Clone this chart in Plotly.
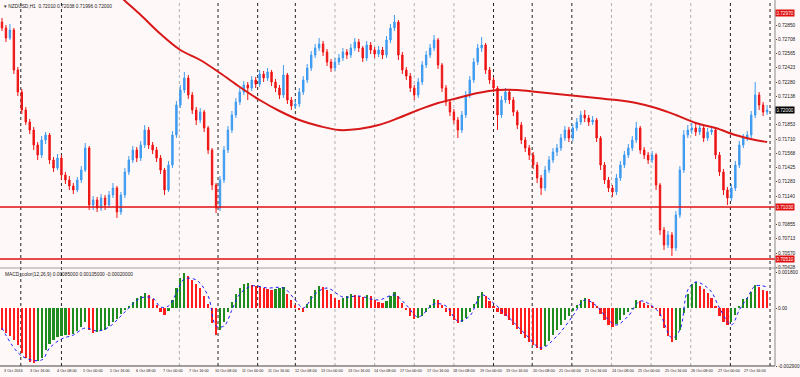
import plotly.graph_objects as go

# ---------------- data ----------------
closes = [0.7282, 0.7272, 0.7280, 0.7240, 0.7218, 0.7200, 0.7188, 0.7180, 0.7165, 0.7155,
          0.7170, 0.7175, 0.7150, 0.7142, 0.7152, 0.7135, 0.7130, 0.7124, 0.7120, 0.7130,
          0.7140, 0.7162, 0.7105, 0.7110, 0.7102, 0.7112, 0.7105, 0.7115, 0.7122, 0.7098,
          0.7115, 0.7138, 0.7150, 0.7160, 0.7152, 0.7165, 0.7180, 0.7165, 0.7160, 0.7152,
          0.7140, 0.7120, 0.7145, 0.7175, 0.7205, 0.7220, 0.7232, 0.7215, 0.7200, 0.7190,
          0.7198, 0.7182, 0.7160, 0.7125, 0.7102, 0.7130, 0.7160, 0.7180, 0.7195, 0.7208,
          0.7218, 0.7225, 0.7222, 0.7230, 0.7226, 0.7236, 0.7232, 0.7238, 0.7228, 0.7222,
          0.7215, 0.7235, 0.7210, 0.7204, 0.7206, 0.7218, 0.7230, 0.7242, 0.7255, 0.7262,
          0.7266, 0.7258, 0.7248, 0.7242, 0.7248, 0.7252, 0.7258, 0.7255, 0.7262, 0.7268,
          0.7262, 0.7252, 0.7265, 0.7260, 0.7256, 0.7260, 0.7255, 0.7270, 0.7282, 0.7288,
          0.7255, 0.7240, 0.7234, 0.7222, 0.7215, 0.7228, 0.7245, 0.7255, 0.7262, 0.7270,
          0.7245, 0.7222, 0.7208, 0.7198, 0.7190, 0.7180, 0.7195, 0.7215, 0.7230, 0.7248,
          0.7262, 0.7265, 0.7240, 0.7230, 0.7222, 0.7195, 0.7210, 0.7218, 0.7210, 0.7198,
          0.7185, 0.7170, 0.7162, 0.7155, 0.7145, 0.7132, 0.7122, 0.7140, 0.7150, 0.7158,
          0.7162, 0.7172, 0.7180, 0.7172, 0.7182, 0.7188, 0.7195, 0.7192, 0.7188, 0.7190,
          0.7172, 0.7145, 0.7130, 0.7122, 0.7118, 0.7132, 0.7145, 0.7155, 0.7162, 0.7170,
          0.7182, 0.7160, 0.7155, 0.7150, 0.7155, 0.7125, 0.7080, 0.7065, 0.7075, 0.7062,
          0.7095, 0.7140, 0.7175, 0.7180, 0.7182, 0.7178, 0.7182, 0.7172, 0.7178, 0.7180,
          0.7155, 0.7138, 0.7120, 0.7112, 0.7122, 0.7145, 0.7165, 0.7172, 0.7175, 0.7195,
          0.7215, 0.7205, 0.7198, 0.7200]

opens = [0.7288, 0.7282, 0.7272, 0.7280, 0.7240, 0.7218, 0.7200, 0.7188, 0.7180, 0.7165,
         0.7155, 0.7170, 0.7175, 0.7150, 0.7142, 0.7152, 0.7135, 0.7130, 0.7124, 0.7120,
         0.7130, 0.7140, 0.7162, 0.7105, 0.7110, 0.7102, 0.7112, 0.7105, 0.7115, 0.7122,
         0.7098, 0.7115, 0.7138, 0.7150, 0.7160, 0.7152, 0.7165, 0.7180, 0.7165, 0.7160,
         0.7152, 0.7140, 0.7120, 0.7145, 0.7175, 0.7205, 0.7220, 0.7232, 0.7215, 0.7200,
         0.7190, 0.7198, 0.7182, 0.7160, 0.7125, 0.7102, 0.7130, 0.7160, 0.7180, 0.7195,
         0.7208, 0.7218, 0.7225, 0.7222, 0.7230, 0.7226, 0.7236, 0.7232, 0.7238, 0.7228,
         0.7222, 0.7215, 0.7235, 0.7210, 0.7204, 0.7206, 0.7218, 0.7230, 0.7242, 0.7255,
         0.7262, 0.7266, 0.7258, 0.7248, 0.7242, 0.7248, 0.7252, 0.7258, 0.7255, 0.7262,
         0.7268, 0.7262, 0.7252, 0.7265, 0.7260, 0.7256, 0.7260, 0.7255, 0.7270, 0.7282,
         0.7288, 0.7255, 0.7240, 0.7234, 0.7222, 0.7215, 0.7228, 0.7245, 0.7255, 0.7262,
         0.7270, 0.7245, 0.7222, 0.7208, 0.7198, 0.7190, 0.7180, 0.7195, 0.7215, 0.7230,
         0.7248, 0.7262, 0.7265, 0.7240, 0.7230, 0.7222, 0.7195, 0.7210, 0.7218, 0.7210,
         0.7198, 0.7185, 0.7170, 0.7162, 0.7155, 0.7145, 0.7132, 0.7122, 0.7140, 0.7150,
         0.7158, 0.7162, 0.7172, 0.7180, 0.7172, 0.7182, 0.7188, 0.7195, 0.7192, 0.7188,
         0.7190, 0.7172, 0.7145, 0.7130, 0.7122, 0.7118, 0.7132, 0.7145, 0.7155, 0.7162,
         0.7170, 0.7182, 0.7160, 0.7155, 0.7150, 0.7155, 0.7125, 0.7080, 0.7065, 0.7075,
         0.7062, 0.7095, 0.7140, 0.7175, 0.7180, 0.7182, 0.7178, 0.7182, 0.7172, 0.7178,
         0.7180, 0.7155, 0.7138, 0.7120, 0.7112, 0.7122, 0.7145, 0.7165, 0.7172, 0.7175,
         0.7195, 0.7215, 0.7205, 0.7198]

highs = [0.7292, 0.7285, 0.7286, 0.7282, 0.7243, 0.7221, 0.7203, 0.7191, 0.7183, 0.7168,
         0.7174, 0.7178, 0.7177, 0.7153, 0.7156, 0.7155, 0.7138, 0.7134, 0.7127, 0.7133,
         0.7144, 0.7167, 0.7164, 0.7114, 0.7113, 0.7116, 0.7115, 0.7119, 0.7127, 0.7124,
         0.7118, 0.7142, 0.7154, 0.7164, 0.7163, 0.7169, 0.7185, 0.7183, 0.7168, 0.7163,
         0.7155, 0.7142, 0.7149, 0.7179, 0.7209, 0.7225, 0.7238, 0.7235, 0.7218, 0.7203,
         0.7202, 0.7200, 0.7184, 0.7162, 0.7127, 0.7134, 0.7164, 0.7184, 0.7199, 0.7212,
         0.7222, 0.7229, 0.7228, 0.7234, 0.7233, 0.7240, 0.7239, 0.7242, 0.7240, 0.7231,
         0.7225, 0.7245, 0.7237, 0.7213, 0.7210, 0.7222, 0.7234, 0.7246, 0.7259, 0.7266,
         0.7272, 0.7269, 0.7261, 0.7251, 0.7252, 0.7256, 0.7262, 0.7261, 0.7266, 0.7272,
         0.7271, 0.7264, 0.7269, 0.7268, 0.7263, 0.7264, 0.7263, 0.7274, 0.7286, 0.7295,
         0.7290, 0.7258, 0.7243, 0.7237, 0.7225, 0.7232, 0.7249, 0.7259, 0.7266, 0.7275,
         0.7272, 0.7247, 0.7225, 0.7211, 0.7201, 0.7193, 0.7199, 0.7219, 0.7234, 0.7252,
         0.7266, 0.7273, 0.7267, 0.7243, 0.7233, 0.7224, 0.7214, 0.7222, 0.7221, 0.7213,
         0.7200, 0.7188, 0.7173, 0.7165, 0.7158, 0.7148, 0.7135, 0.7144, 0.7154, 0.7162,
         0.7166, 0.7176, 0.7184, 0.7183, 0.7186, 0.7192, 0.7199, 0.7200, 0.7195, 0.7194,
         0.7192, 0.7174, 0.7148, 0.7133, 0.7125, 0.7136, 0.7149, 0.7159, 0.7166, 0.7174,
         0.7188, 0.7184, 0.7163, 0.7158, 0.7159, 0.7157, 0.7127, 0.7083, 0.7079, 0.7078,
         0.7099, 0.7144, 0.7180, 0.7185, 0.7187, 0.7186, 0.7187, 0.7185, 0.7182, 0.7184,
         0.7182, 0.7158, 0.7141, 0.7123, 0.7126, 0.7149, 0.7169, 0.7176, 0.7179, 0.7199,
         0.7228, 0.7218, 0.7208, 0.7205]

lows = [0.7279, 0.7268, 0.7270, 0.7236, 0.7214, 0.7196, 0.7185, 0.7176, 0.7160, 0.7150,
        0.7152, 0.7166, 0.7146, 0.7138, 0.7140, 0.7130, 0.7126, 0.7120, 0.7116, 0.7118,
        0.7127, 0.7138, 0.7100, 0.7100, 0.7098, 0.7099, 0.7100, 0.7102, 0.7112, 0.7092,
        0.7095, 0.7112, 0.7135, 0.7147, 0.7148, 0.7149, 0.7162, 0.7161, 0.7156, 0.7148,
        0.7136, 0.7115, 0.7118, 0.7142, 0.7172, 0.7202, 0.7217, 0.7211, 0.7196, 0.7185,
        0.7187, 0.7178, 0.7156, 0.7120, 0.7097, 0.7099, 0.7127, 0.7157, 0.7177, 0.7192,
        0.7205, 0.7215, 0.7210, 0.7219, 0.7222, 0.7223, 0.7228, 0.7229, 0.7224, 0.7218,
        0.7211, 0.7212, 0.7206, 0.7200, 0.7201, 0.7203, 0.7215, 0.7227, 0.7239, 0.7252,
        0.7259, 0.7254, 0.7244, 0.7238, 0.7239, 0.7245, 0.7249, 0.7251, 0.7252, 0.7259,
        0.7258, 0.7248, 0.7249, 0.7256, 0.7252, 0.7253, 0.7251, 0.7252, 0.7267, 0.7279,
        0.7250, 0.7236, 0.7230, 0.7218, 0.7210, 0.7212, 0.7225, 0.7242, 0.7252, 0.7259,
        0.7241, 0.7218, 0.7204, 0.7194, 0.7186, 0.7172, 0.7177, 0.7192, 0.7212, 0.7227,
        0.7245, 0.7258, 0.7236, 0.7226, 0.7218, 0.7180, 0.7192, 0.7207, 0.7206, 0.7194,
        0.7181, 0.7166, 0.7158, 0.7150, 0.7141, 0.7127, 0.7115, 0.7119, 0.7137, 0.7147,
        0.7154, 0.7159, 0.7169, 0.7168, 0.7169, 0.7179, 0.7185, 0.7188, 0.7184, 0.7185,
        0.7168, 0.7140, 0.7126, 0.7118, 0.7113, 0.7115, 0.7129, 0.7142, 0.7152, 0.7159,
        0.7167, 0.7156, 0.7151, 0.7146, 0.7147, 0.7120, 0.7075, 0.7060, 0.7062, 0.7054,
        0.7059, 0.7092, 0.7137, 0.7172, 0.7176, 0.7174, 0.7175, 0.7168, 0.7169, 0.7175,
        0.7151, 0.7134, 0.7115, 0.7105, 0.7109, 0.7119, 0.7142, 0.7162, 0.7169, 0.7172,
        0.7192, 0.7200, 0.7194, 0.7195]

ma_bars = [25, 30, 35, 40, 45, 50, 55, 60, 65, 70, 75, 80, 85, 90, 95, 100, 105, 110,
           115, 120, 125, 130, 135, 140, 145, 150, 155, 160, 165, 170, 175, 180, 185, 190, 193]
ma_values = [0.7335, 0.7313, 0.7295, 0.7276, 0.7260, 0.7250, 0.7237, 0.7223, 0.7210, 0.7199,
             0.7190, 0.7184, 0.7180, 0.7181, 0.7185, 0.7192, 0.7200, 0.7207, 0.7212, 0.7217,
             0.7220, 0.7220, 0.7218, 0.7216, 0.7214, 0.7212, 0.7210, 0.7207, 0.7202, 0.7195,
             0.7187, 0.7182, 0.7175, 0.7170, 0.7168]

macd_hist = [-0.0011, -0.00125, -0.0014, -0.0016, -0.00185, -0.00225, -0.0025, -0.0027, -0.00275, -0.00265,
             -0.0025, -0.0021, -0.0018, -0.0016, -0.00145, -0.0014, -0.00135, -0.00135, -0.0013, -0.00115,
             -0.00095, -0.0007, -0.0011, -0.00125, -0.0012, -0.00115, -0.0011, -0.0009, -0.0007, -0.00055,
             -0.0003, -0.0001, 0.0001, 0.0003, 0.0005, 0.0006, 0.00075, 0.00065, 0.00045, 0.00015,
             -0.0002, -0.00035, -0.00015, 0.0004, 0.001, 0.0015, 0.00175, 0.0016, 0.0014, 0.0012,
             0.001, 0.0006, 0.0002, -0.00075, -0.00135, -0.0011, -0.0007, -0.0002, 0.0003, 0.0007,
             0.001, 0.0012, 0.00125, 0.00115, 0.0011, 0.00105, 0.001, 0.00095, 0.0009, 0.00095,
             0.001, 0.00105, 0.0007, 0.0004, 0.00015, -0.0001, -0.0002, 0.0002, 0.0006, 0.0009,
             0.0011, 0.00105, 0.0009, 0.0007, 0.0005, 0.0004, 0.0005, 0.0006, 0.0007, 0.00065,
             0.0006, 0.00055, 0.00065, 0.0006, 0.0004, 0.0003, 0.00025, 0.00035, 0.0006, 0.0008,
             0.0006, 0.00025, -0.0001, -0.0004, -0.00055, -0.0005, -0.0004, -0.0002, 0.00015, 0.00045,
             0.0004, 0.00015, -0.0002, -0.0004, -0.0006, -0.00075, -0.0007, -0.0005, -0.0002, 0.0002,
             0.0006, 0.0008, 0.0006, 0.00035, 0.0001, -0.0002, -0.0003, -0.0004, -0.0006, -0.00085,
             -0.00105, -0.0013, -0.0015, -0.0017, -0.00185, -0.002, -0.0021, -0.0019, -0.00165, -0.00135,
             -0.0011, -0.00085, -0.0006, -0.0004, -0.00015, 0.00015, 0.0004, 0.0005, 0.00045, 0.0003,
             0.0001, -0.0003, -0.0006, -0.00085, -0.00095, -0.0008, -0.0006, -0.00035, -0.0002, -0.00005,
             0.0004, 0.00035, 0.00025, 0.00015, 0.0001, -0.00005, -0.0004, -0.001, -0.0014, -0.0017,
             -0.0016, -0.0011, -0.00025, 0.0007, 0.0012, 0.0013, 0.0011, 0.00095, 0.00075, 0.0005,
             0.0001, -0.0004, -0.0007, -0.00085, -0.0007, -0.00035, 0.0001, 0.00045, 0.0005, 0.0008,
             0.00115, 0.00105, 0.0009, 0.00085]

signal_bars = [0, 5, 10, 12, 15, 18, 21, 24, 27, 30, 32, 35, 38, 40, 42, 44, 46, 49, 52, 54,
               56, 58, 60, 63, 67, 71, 74, 76, 79, 82, 86, 90, 95, 99, 102, 105, 109, 112, 115, 118,
               121, 124, 128, 132, 136, 140, 144, 147, 150, 153, 155, 158, 161, 164, 166, 169, 171, 173,
               175, 177, 179, 181, 184, 186, 188, 190, 193]
signal_values = [-0.001, -0.0024, -0.0026, -0.002, -0.00155, -0.00135, -0.001, -0.00115, -0.00095, -0.0004,
                 0.0, 0.0005, 0.0005, 0.00005, 0.0001, 0.00075, 0.00145, 0.0014, 0.0006, -0.0009,
                 -0.0009, -0.0001, 0.0007, 0.0011, 0.001, 0.001, 0.0004, 0.0, 0.0007, 0.001,
                 0.00055, 0.0006, 0.0004, 0.00065, 0.00015, -0.00045, 0.0002, 0.0001, -0.00065, -0.0004,
                 0.00065, 0.00025, -0.0005, -0.0013, -0.002, -0.0014, -0.0004, 0.0004, 0.0001, -0.0006,
                 -0.00085, -0.0004, 0.00035, 0.0001, -0.0003, -0.0015, -0.0011, 0.0009, 0.0013, 0.00115,
                 0.0008, 0.0, -0.00085, -0.0001, 0.0005, 0.0011, 0.00105]

date_labels = ["3 Oct 2016", "3 Oct 16:00", "4 Oct 08:00", "5 Oct 00:00", "5 Oct 16:00",
               "6 Oct 08:00", "7 Oct 00:00", "7 Oct 16:00", "10 Oct 08:00", "11 Oct 00:00",
               "11 Oct 16:00", "12 Oct 08:00", "13 Oct 00:00", "13 Oct 16:00", "14 Oct 08:00",
               "17 Oct 00:00", "17 Oct 16:00", "18 Oct 08:00", "19 Oct 00:00", "19 Oct 16:00",
               "20 Oct 08:00", "21 Oct 00:00", "21 Oct 16:00", "24 Oct 08:00", "25 Oct 00:00",
               "25 Oct 16:00", "26 Oct 08:00", "27 Oct 00:00", "27 Oct 16:00"]

price_ticks = [0.72850, 0.72708, 0.72565, 0.72423, 0.72280, 0.72138, 0.71853, 0.71710,
               0.71568, 0.71425, 0.71283, 0.71140, 0.70855, 0.70713, 0.70570, 0.70428]
level_lines = [0.7103, 0.7051]
top_level = 0.7297
last_price = 0.7200
macd_ticks = [0.0018, 0.0, -0.0029]
macd_tick_text = ["0.001800", "0.00", "-0.002900"]

title_text = "\u25be NZDUSD,H1  0.72010 0.72038 0.71996 0.72000"
macd_title = "MACD_color(12,26,9) 0.00085000 0.00105000 -0.00020000"

# ---------------- layout constants (pixels) ----------------
W, H = 800, 377
MR, MB = 18, 11
PW, PH = W - MR, H - MB
MAIN_BOTTOM_PX = 268
BAR_PX = 4.0
split = 1 - MAIN_BOTTOM_PX / PH

def px_to_x(px):
    return px / BAR_PX - 0.5

x_idx = list(range(len(closes)))
BLUE = "#3d9bf0"
RED = "#ee1414"
GREEN = "#1f8c1f"
FONT = "Liberation Sans"
FS = 4.8
FS_DATE = 3.8

fig = go.Figure()
fig.add_trace(go.Candlestick(
    x=x_idx, open=opens, high=highs, low=lows, close=closes,
    increasing=dict(line=dict(color=BLUE, width=1), fillcolor=BLUE),
    decreasing=dict(line=dict(color=RED, width=1), fillcolor=RED),
    whiskerwidth=0, xaxis="x", yaxis="y", showlegend=False, hoverinfo="skip"))

fig.add_trace(go.Scatter(x=ma_bars, y=ma_values, mode="lines",
                         line=dict(color="#d81818", width=2, shape="spline", smoothing=1.0),
                         xaxis="x", yaxis="y", showlegend=False, hoverinfo="skip", cliponaxis=True))

bar_colors = [GREEN if i > 0 and macd_hist[i] > macd_hist[i - 1] else "#ff1c1c"
              for i in range(len(macd_hist))]
fig.add_trace(go.Bar(x=x_idx, y=macd_hist, marker=dict(color=bar_colors, line=dict(width=0)),
                     width=0.55, xaxis="x", yaxis="y2", showlegend=False, hoverinfo="skip"))
fig.add_trace(go.Scatter(x=signal_bars, y=signal_values, mode="lines",
                         line=dict(color="#1c1cff", width=1, dash="dot", shape="spline"),
                         xaxis="x", yaxis="y2", showlegend=False, hoverinfo="skip"))

shapes = []
black_sep = [21, 62, 220, 260, 298, 498, 537, 577, 737, 777]
gray_sep = [181, 338, 378, 418, 458, 617, 657, 697]
for px in black_sep:
    shapes.append(dict(type="line", xref="x", yref="paper", x0=px_to_x(px), x1=px_to_x(px),
                       y0=0, y1=1, line=dict(color="#222222", width=1, dash="dot"), layer="below"))
for px in gray_sep:
    shapes.append(dict(type="line", xref="x", yref="paper", x0=px_to_x(px), x1=px_to_x(px),
                       y0=0, y1=1, line=dict(color="#b0b0b0", width=1, dash="dot"), layer="below"))
for lv in level_lines:
    shapes.append(dict(type="line", xref="paper", yref="y", x0=0, x1=1, y0=lv, y1=lv,
                       line=dict(color="#e01010", width=1.5)))
shapes.append(dict(type="line", xref="paper", yref="paper", x0=0, x1=1.023, y0=split, y1=split,
                   line=dict(color="#a0a0a0", width=1)))
shapes.append(dict(type="line", xref="paper", yref="paper", x0=0, x1=1, y0=0, y1=0,
                   line=dict(color="#444444", width=1)))
shapes.append(dict(type="line", xref="paper", yref="paper", x0=1, x1=1, y0=0, y1=1,
                   line=dict(color="#888888", width=1)))

annotations = []
annotations.append(dict(text=title_text, xref="paper", yref="paper", x=0.003, y=1, yshift=-2,
                        xanchor="left", yanchor="top", showarrow=False,
                        font=dict(family=FONT, size=FS, color="#222222")))
annotations.append(dict(text=macd_title, xref="paper", yref="paper", x=0.004, y=split, yshift=-2,
                        xanchor="left", yanchor="top", showarrow=False,
                        font=dict(family=FONT, size=FS, color="#222222")))
for k, lab in enumerate(date_labels):
    px = 2 + k * (80.0 / 3.0)
    annotations.append(dict(text=lab, xref="x", yref="paper", x=px_to_x(px), y=0, yshift=-1,
                            xanchor="left", yanchor="top", showarrow=False,
                            font=dict(family=FONT, size=FS_DATE, color="#222222")))
for val, bg in [(top_level, "#e01010"), (level_lines[0], "#e01010"), (level_lines[1], "#e01010"),
                (last_price, "#000000")]:
    annotations.append(dict(text="%.5f" % val, xref="paper", yref="y", x=1, y=val,
                            xanchor="left", yanchor="middle", showarrow=False, bgcolor=bg,
                            borderpad=0.5, width=17,
                            font=dict(family=FONT, size=FS, color="#ffffff")))

fig.update_layout(
    width=W, height=H,
    margin=dict(l=0, r=MR, t=0, b=MB),
    paper_bgcolor="#fff8f8", plot_bgcolor="#fff8f8",
    showlegend=False, bargap=0, boxgap=0.5,
    xaxis=dict(domain=[0, 1], range=[px_to_x(0), px_to_x(PW)], anchor="y2",
               showticklabels=False, showgrid=False, zeroline=False, showline=False,
               rangeslider=dict(visible=False), fixedrange=True),
    yaxis=dict(domain=[split, 1], range=[0.7042, 0.7310], side="right", anchor="x",
               tickvals=price_ticks, tickformat=".5f", ticks="outside", ticklen=1,
               tickcolor="#444444", showgrid=False, zeroline=False, showline=False,
               tickfont=dict(family=FONT, size=FS, color="#222222")),
    yaxis2=dict(domain=[0, split], range=[-0.0029, 0.0020], side="right", anchor="x",
                tickvals=macd_ticks, ticktext=macd_tick_text, ticks="outside", ticklen=1,
                tickcolor="#444444", showgrid=False, zeroline=False, showline=False,
                tickfont=dict(family=FONT, size=FS, color="#222222")),
    shapes=shapes, annotations=annotations,
)

fig.write_html("out.html")
